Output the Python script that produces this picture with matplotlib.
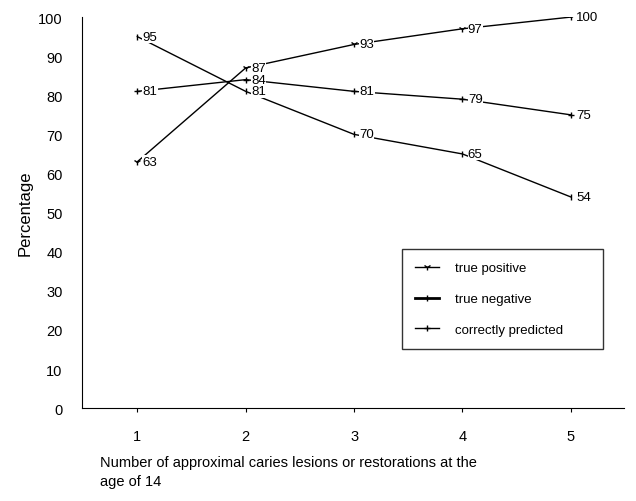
import matplotlib.pyplot as plt

# data
x = [1, 2, 3, 4, 5]
true_positive = [63, 87, 93, 97, 100]
true_negative = [95, 81, 70, 65, 54]
correctly_predicted = [81, 84, 81, 79, 75]
series_names = ["true positive", "true negative", "correctly predicted"]

plt.rcParams["font.family"] = ["Liberation Sans", "DejaVu Sans"]

fig = plt.figure(figsize=(6.36, 5.02), dpi=100)
ax = fig.add_axes([0.129, 0.185, 0.852, 0.779])

styles = [
    dict(lw=1.0, marker="1", ms=5),
    dict(lw=1.0, marker="|", ms=5),
    dict(lw=1.0, marker="+", ms=5),
]
all_series = [true_positive, true_negative, correctly_predicted]

for vals, name, st in zip(all_series, series_names, styles):
    ax.plot(x, vals, color="black", label=name, **st)
    for xi, v in zip(x, vals):
        ax.text(xi + 0.05, v, str(v), fontsize=9.5, va="center", ha="left",
                bbox=dict(facecolor="white", edgecolor="none", pad=0.2))

ax.set_xlim(0.49, 5.49)
ax.set_ylim(0, 100)
ax.set_xticks(x)
ax.set_yticks(range(0, 101, 10))
ax.tick_params(axis="y", length=0, pad=14, labelsize=10.5)
ax.tick_params(axis="x", length=3, pad=12, labelsize=10.5)
ax.spines["top"].set_visible(False)
ax.spines["right"].set_visible(False)
ax.set_ylabel("Percentage", fontsize=12, labelpad=4)

leg_handles = [
    plt.Line2D([], [], color="black", lw=1.0, marker="1", ms=5),
    plt.Line2D([], [], color="black", lw=2.0, marker="|", ms=5),
    plt.Line2D([], [], color="black", lw=1.0, marker="+", ms=5),
]
leg = ax.legend(leg_handles, series_names, loc="lower left",
                bbox_to_anchor=(0.59, 0.151, 0.371, 0.256), mode="expand",
                borderaxespad=0, fontsize=9.5, frameon=True, fancybox=False,
                labelspacing=1.4, handlelength=1.8, borderpad=1.0,
                handletextpad=1.2)
leg.get_frame().set_edgecolor("black")
leg.get_frame().set_linewidth(1.0)

fig.text(0.157, 0.058, "Number of approximal caries lesions or restorations at the\nage of 14",
         fontsize=10.5, ha="left", va="center", linespacing=1.45)

fig.savefig("out.png", dpi=100)
